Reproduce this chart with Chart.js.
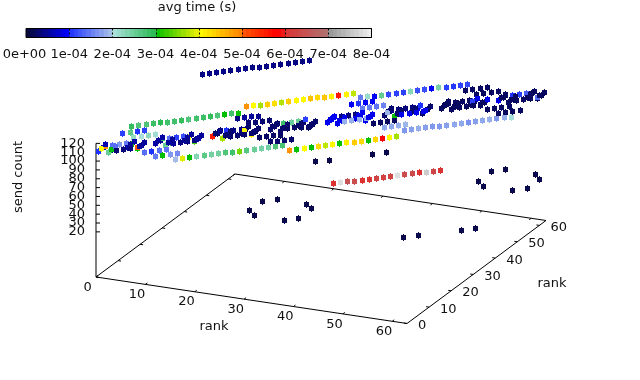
<!DOCTYPE html>
<html>
<head>
<meta charset="utf-8">
<style>html,body{margin:0;padding:0;background:#fff}canvas{display:block}</style>
<script src="https://cdn.jsdelivr.net/npm/chart.js@4"></script>
</head>
<body>
<canvas id="comm_chart" width="640" height="380"></canvas>
<script>
// tick labels
var rankTicks = [0, 10, 20, 30, 40, 50, 60];
var countTicks = [20, 30, 40, 50, 60, 70, 80, 90, 100, 110, 120];
var colorTicks = ["0e+00", "1e-04", "2e-04", "3e-04", "4e-04", "5e-04", "6e-04", "7e-04", "8e-04"];

// time colour palette, time in 1e-4 s
var paletteTime = [0, 0.99, 1, 1.99, 2, 2.99, 3, 3.99, 4, 4.99, 5, 5.8, 5.99, 6, 6.99, 7, 8];
var paletteRgb = [[10,10,50],[0,0,255],[30,50,255],[170,195,230],[175,225,225],[40,185,80],[0,190,0],[235,240,0],[255,255,0],[255,130,0],[255,90,0],[255,0,0],[235,30,30],[220,50,50],[175,115,115],[150,150,150],[240,240,240]];

// sender to sender+16
var fromP16 = [0,1,2,3,4,5,6,7,8,9,10,11,12,13,14,15,16,17,18,19,20,21,22,23,24,25,26,27,28,29,30,31,32,33,34,35,36,37,38,39,40,41,42,43,44,45,46,47];
var countP16 = [110,110,110,110,110,110,110,110,110,110,110,110,110,110,110,110,116,116,116,116,116,116,116,116,116,116,116,116,116,116,116,116,110,110,110,110,110,110,110,110,110,110,110,110,110,110,110,110];
var timeP16 = [2.9,2.7,2.7,2.85,2.95,2.8,2.8,2.9,2.7,2.8,2.85,2.9,2.7,3.0,2.8,3.05,4.85,4.0,3.7,4.4,4.25,3.75,4.4,4.05,4.05,4.5,4.3,4.45,4.1,5.6,4.1,3.8,1.5,2.15,0.95,2.55,1.15,1.1,1.1,2.3,1.2,1.2,0.95,2.4,1.1,1.05,1.1,1.15];

// sender to sender-16
var fromM16 = [16,17,18,19,20,21,22,23,24,25,26,27,28,29,30,31,32,33,34,35,36,37,38,39,40,41,42,43,44,45,46,47,48,49,50,51,52,53,54,55,56,57,58,59,60,61,62,63];
var countM16 = [116,116,116,116,116,116,116,116,116,116,116,116,116,116,116,116,110,110,110,110,110,110,110,110,110,110,110,110,110,110,110,110,116,116,116,116,116,116,116,116,116,116,116,116,116,116,116,116];
var timeM16 = [1.95,3.95,3.0,2.3,2.6,2.45,2.45,2.7,2.8,3.5,2.65,2.5,2.4,2.45,2.7,2.75,4.85,3.05,4.0,3.0,4.3,3.8,4.05,3.05,4.1,4.4,4.3,3.05,4.3,5.85,4.05,3.7,1.7,1.75,1.85,1.75,1.7,1.7,1.75,1.8,1.8,1.65,1.75,1.8,1.85,1.7,1.85,2.05];

// sender to sender+48, sender-48
var fromP48 = [0,1,2,3,4,5,6,7,8,9,10,11,12,13,14,15];
var countP48 = [110,110,110,110,110,110,110,110,110,110,110,110,110,110,110,110];
var timeP48 = [0.4,0.4,0.42,0.4,0.38,0.4,0.4,0.4,0.42,0.4,0.4,0.38,0.4,0.4,0.4,0.4];
var fromM48 = [48,49,50,51,52,53,54,55,56,57,58,59,60,61,62,63];
var countM48 = [115,115,115,115,115,115,115,115,115,115,115,115,115,115,115,115];
var timeM48 = [6.0,7.8,6.5,6.4,6.0,6.05,6.3,6.25,6.25,7.8,6.4,6.35,6.0,7.6,6.3,6.05];

// sender to sender+4, sender-4
var fromP4 = [0,1,2,3,4,5,6,7,8,9,10,11,16,17,18,19,20,21,22,23,24,25,26,27,32,33,34,35,36,37,38,39,40,41,42,43,48,49,50,51,52,53,54,55,56,57,58,59];
var countP4 = [110,110,110,110,116,116,116,116,110,110,110,110,110,110,110,110,116,116,116,116,110,110,110,110,110,110,110,110,116,116,116,116,110,110,110,110,110,110,110,110,116,116,116,116,110,110,110,110];
var timeP4 = [4.85,1.4,1.7,1.5,2.2,2.05,2.25,2.1,2.9,1.4,1.1,1.2,0.4,1.0,0.4,0.4,0.3,0.3,0.3,0.3,0.3,2.8,2.5,2.5,0.95,0.35,0.35,0.35,1.5,1.5,1.45,1.55,0.35,0.35,0.35,0.35,0.22,0.22,0.22,0.22,0.22,0.22,0.22,0.22,0.22,1.0,1.1,1.3];
var fromM4 = [4,5,6,7,8,9,10,11,12,13,14,15,20,21,22,23,24,25,26,27,28,29,30,31,36,37,38,39,40,41,42,43,44,45,46,47,52,53,54,55,56,57,58,59,60,61,62,63];
var countM4 = [116,116,116,116,110,110,110,110,116,116,116,116,116,116,116,116,110,110,110,110,116,116,116,116,116,116,116,116,110,110,110,110,116,116,116,116,116,116,116,116,110,110,110,110,116,116,116,116];
var timeM4 = [0.3,0.35,0.4,5.0,1.4,1.0,1.4,1.45,0.5,0.4,0.4,0.4,0.3,0.3,0.3,0.3,0.25,0.25,0.25,0.25,0.25,0.25,0.25,0.25,1.85,1.85,1.85,1.85,0.22,0.22,0.22,0.22,0.9,0.9,0.9,0.9,0.22,0.22,0.22,0.22,0.22,0.22,0.22,0.22,0.22,0.22,0.22,1.4];

// sender to sender+12, sender-12
var fromP12 = [0,1,2,3,16,17,18,19,32,33,34,35,48,49,50,51];
var countP12 = [110,110,110,110,110,110,110,110,110,110,110,110,110,110,110,110];
var timeP12 = [1.1,2.6,1.0,1.1,0.4,0.5,0.5,0.45,0.95,1.0,0.95,0.95,0.22,0.22,0.22,0.22];
var fromM12 = [12,13,14,15,28,29,30,31,44,45,46,47,60,61,62,63];
var countM12 = [116,116,116,116,116,116,116,116,116,116,116,116,116,116,116,116];
var timeM12 = [1.5,3.0,1.7,1.6,0.28,0.28,0.28,0.28,1.8,1.8,1.85,1.9,0.22,0.22,0.22,0.22];

// sender to sender+1, sender-1
var fromP1 = [0,1,2,4,5,6,8,9,10,12,13,14,16,17,18,20,21,22,24,25,26,28,29,30,32,33,34,36,37,38,40,41,42,44,45,46,48,49,50,52,53,54,56,57,58,60,61,62];
var countP1 = [110,116,110,110,116,110,110,116,110,110,116,110,110,116,110,110,116,110,110,116,110,110,116,110,110,116,110,110,116,110,110,116,110,110,116,110,110,116,110,110,116,110,110,116,110,110,116,110];
var timeP1 = [1.0,0.6,0.6,0.55,0.55,0.5,0.55,0.55,2.9,0.5,0.5,0.6,5.6,0.4,0.3,0.3,0.3,0.3,0.3,0.3,0.3,0.28,1.1,0.28,0.9,0.95,0.9,0.9,0.95,0.9,0.3,0.3,0.3,0.3,1.0,0.3,0.22,0.22,0.22,0.22,0.9,0.22,0.9,0.22,0.22,0.22,0.22,0.22];
var fromM1 = [1,2,3,5,6,7,9,10,11,13,14,15,17,18,19,21,22,23,25,26,27,29,30,31,33,34,35,37,38,39,41,42,43,45,46,47,49,50,51,53,54,55,57,58,59,61,62,63];
var countM1 = [116,110,116,116,110,116,116,110,116,116,110,116,116,110,116,116,110,116,116,110,116,116,110,116,116,110,116,116,110,116,116,110,116,116,110,116,116,110,116,116,110,116,116,110,116,116,110,116];
var timeM1 = [4.0,2.5,1.4,0.5,3.0,0.5,0.5,2.5,0.5,0.5,3.3,0.5,0.3,3.7,0.3,4.05,4.05,0.3,0.28,0.28,0.28,0.28,0.28,0.28,0.9,0.9,0.9,0.9,0.9,0.9,1.9,3.0,0.3,0.3,0.3,0.3,0.22,0.22,0.22,1.1,0.22,0.9,0.22,0.22,0.22,0.22,0.22,0.22];

// sender to sender+3, sender-3
var fromP3 = [0,4,8,12,16,20,24,28,32,36,40,44,48,52,56,60];
var countP3 = [110,110,110,110,110,110,110,110,110,110,110,110,110,110,110,110];
var timeP3 = [0.6,3.0,0.5,4.1,0.3,0.3,0.28,0.28,0.9,0.9,0.3,0.9,0.22,0.22,0.22,0.22];
var fromM3 = [3,7,11,15,19,23,27,31,35,39,43,47,51,55,59,63];
var countM3 = [116,116,116,116,116,116,116,116,116,116,116,116,116,116,116,116];
var timeM3 = [3.0,0.5,0.5,0.5,0.3,0.3,0.28,0.28,0.9,0.9,0.3,0.9,0.22,0.22,0.22,0.22];

// the few low count pairs under the band
var fromLow = [22,24,30,32,52,54,60,62,23,24,23,25,30,32,31,32,55,56,55,57,62,61,63,63];
var toLow = [50,52,58,60,23,25,31,33,18,18,24,26,18,20,26,26,50,50,56,58,50,59,58,60];
var countLow = [25.7,25.7,25.7,25.7,14.8,14.8,14.8,14.8,30.4,25.5,29.5,29.7,24.8,25,29.7,25.3,30.6,25.8,30.8,31.1,26.3,11,30.5,21.1];
var timeLow = [0.12,0.12,0.12,0.12,0.12,0.12,0.12,0.12,0.12,0.12,0.12,0.12,0.12,0.12,0.12,0.12,0.12,0.12,0.12,0.12,0.12,0.12,0.12,0.12];

var zBase = -31;   // count where the rank plane sits
var rankMax = 63;

function project(rx, ry, c) {
    return {
        x: 96 + 4.937 * rx + 2.206 * ry,
        y: 277 + 0.738 * rx - 1.635 * ry - (c - zBase) * 0.885
    };
}

function timeColor(t) {
    var i = 0;
    while (i < paletteTime.length - 2 && t > paletteTime[i + 1]) i++;
    var f = Math.min(1, Math.max(0, (t - paletteTime[i]) / (paletteTime[i + 1] - paletteTime[i])));
    var a = paletteRgb[i], b = paletteRgb[i + 1];
    return "rgb(" + Math.round(a[0] + (b[0] - a[0]) * f) + "," + Math.round(a[1] + (b[1] - a[1]) * f) + "," + Math.round(a[2] + (b[2] - a[2]) * f) + ")";
}

var links = [];
function addLinks(from, offset, count, time) {
    for (var i = 0; i < from.length; i++) {
        links.push({ from: from[i], to: from[i] + offset, count: count[i], time: time[i] });
    }
}
addLinks(fromP16, 16, countP16, timeP16);
addLinks(fromM16, -16, countM16, timeM16);
addLinks(fromP48, 48, countP48, timeP48);
addLinks(fromM48, -48, countM48, timeM48);
addLinks(fromP4, 4, countP4, timeP4);
addLinks(fromM4, -4, countM4, timeM4);
addLinks(fromP12, 12, countP12, timeP12);
addLinks(fromM12, -12, countM12, timeM12);
addLinks(fromP1, 1, countP1, timeP1);
addLinks(fromM1, -1, countM1, timeM1);
addLinks(fromP3, 3, countP3, timeP3);
addLinks(fromM3, -3, countM3, timeM3);
fromLow.forEach(function (f, i) {
    links.push({ from: f, to: toLow[i], count: countLow[i], time: timeLow[i] });
});
links.sort(function (a, b) { return a.from - b.from || a.to - b.to; });

var markPoints = links.map(function (l) {
    var p = project(l.from, l.to, l.count);
    return { x: Math.round(p.x) + 0.5, y: Math.round(p.y) + 0.5 };
});
var markColors = links.map(function (l) { return timeColor(l.time); });

// rank plane and count axis
var gap = { x: NaN, y: NaN };
var corners = [[0, 0], [rankMax, 0], [rankMax, rankMax], [0, rankMax], [0, 0]];
var framePoints = corners.map(function (c) { return project(c[0], c[1], zBase); });
framePoints.push(project(0, 0, 120));

var tickPoints = [];
rankTicks.forEach(function (t) {
    tickPoints.push(project(t, 0, zBase), project(t, 0.9, zBase), gap);
    tickPoints.push(project(t, rankMax, zBase), project(t, rankMax - 0.9, zBase), gap);
    tickPoints.push(project(0, t, zBase), project(0.6, t, zBase), gap);
    tickPoints.push(project(rankMax, t, zBase), project(rankMax - 0.6, t, zBase), gap);
});
countTicks.forEach(function (c) {
    var p = project(0, 0, c);
    tickPoints.push(p, { x: p.x + 4, y: p.y }, gap);
});

// colour bar
var barLeft = 26, barRight = 371.5, barTop = 28.5, barBottom = 37.5;
var barStep = (barRight - barLeft) / 8;
var barPoints = [];
for (var s = 0; s <= 80; s++) {
    barPoints.push({ x: Math.round(barLeft + (barRight - barLeft) * s / 80), y: 33 });
}
var barBorder = [
    { x: barLeft, y: barTop }, { x: barRight, y: barTop }, { x: barRight, y: barBottom },
    { x: barLeft, y: barBottom }, { x: barLeft, y: barTop }
];
var barTicks = [];
for (var k = 1; k < 8; k++) {
    var tx = Math.round(barLeft + barStep * k) + 0.5;
    barTicks.push({ x: tx, y: barTop }, { x: tx, y: barBottom }, gap);
}

var textPlugin = {
    id: "gnuplotText",
    afterDatasetsDraw: function (chart) {
        var ctx = chart.ctx, sx = chart.scales.x, sy = chart.scales.y;
        function put(text, x, y, align) {
            ctx.textAlign = align;
            ctx.fillText(text, sx.getPixelForValue(x), sy.getPixelForValue(y));
        }
        ctx.save();
        ctx.fillStyle = "#111";
        ctx.textBaseline = "middle";
        ctx.font = "13px 'DejaVu Sans'";
        put("avg time (s)", 197, 8, "center");
        colorTicks.forEach(function (label, i) {
            put(label, barLeft + barStep * i - (i === 0 ? 1.5 : 0), 55, "center");
        });
        rankTicks.forEach(function (t) {
            var a = project(t, 0, zBase);
            put(String(t), a.x - 8.3, a.y + 10.3, "center");
            var b = project(rankMax, t, zBase);
            put(String(t), b.x + 11, b.y + 2.3, "left");
        });
        countTicks.forEach(function (c) {
            var p = project(0, 0, c);
            put(String(c), 85, p.y, "right");
        });
        put("rank", 214, 327, "center");
        put("rank", 552, 284, "center");
        ctx.translate(sx.getPixelForValue(18.5), sy.getPixelForValue(177));
        ctx.rotate(-Math.PI / 2);
        ctx.textAlign = "center";
        ctx.fillText("send count", 0, 0);
        ctx.restore();
    }
};

new Chart(document.getElementById("comm_chart").getContext("2d"), {
    type: "scatter",
    data: {
        datasets: [
            {
                label: "links",
                data: markPoints,
                showLine: false,
                pointStyle: "rect",
                pointRadius: 3.5355,
                pointBorderWidth: 0,
                pointBackgroundColor: markColors
            },
            {
                label: "link whiskers",
                data: markPoints,
                showLine: false,
                pointStyle: "line",
                pointRotation: 90,
                pointRadius: 3.5,
                pointBorderWidth: 1,
                pointBorderColor: markColors
            },
            { label: "bar ticks", data: barTicks, showLine: true, pointRadius: 0, borderColor: "#000", borderWidth: 1, borderDash: [2, 2], spanGaps: false },
            { label: "bar border", data: barBorder, showLine: true, pointRadius: 0, borderColor: "#000", borderWidth: 1 },
            {
                label: "bar",
                data: barPoints,
                showLine: true,
                pointRadius: 0,
                borderWidth: 8,
                borderCapStyle: "butt",
                segment: {
                    borderColor: function (ctx) {
                        return timeColor(ctx.p0DataIndex / 10 + 0.05);
                    }
                }
            },
            { label: "ticks", data: tickPoints, showLine: true, pointRadius: 0, borderColor: "#000", borderWidth: 1, spanGaps: false },
            { label: "frame", data: framePoints, showLine: true, pointRadius: 0, borderColor: "#000", borderWidth: 1 }
        ]
    },
    options: {
        responsive: false,
        animation: false,
        layout: { padding: 0, autoPadding: false },
        plugins: { legend: { display: false }, tooltip: { enabled: false } },
        scales: {
            x: { type: "linear", min: 0, max: 640, display: false },
            y: { type: "linear", min: 0, max: 380, reverse: true, display: false }
        }
    },
    plugins: [textPlugin]
});
</script>
</body>
</html>
